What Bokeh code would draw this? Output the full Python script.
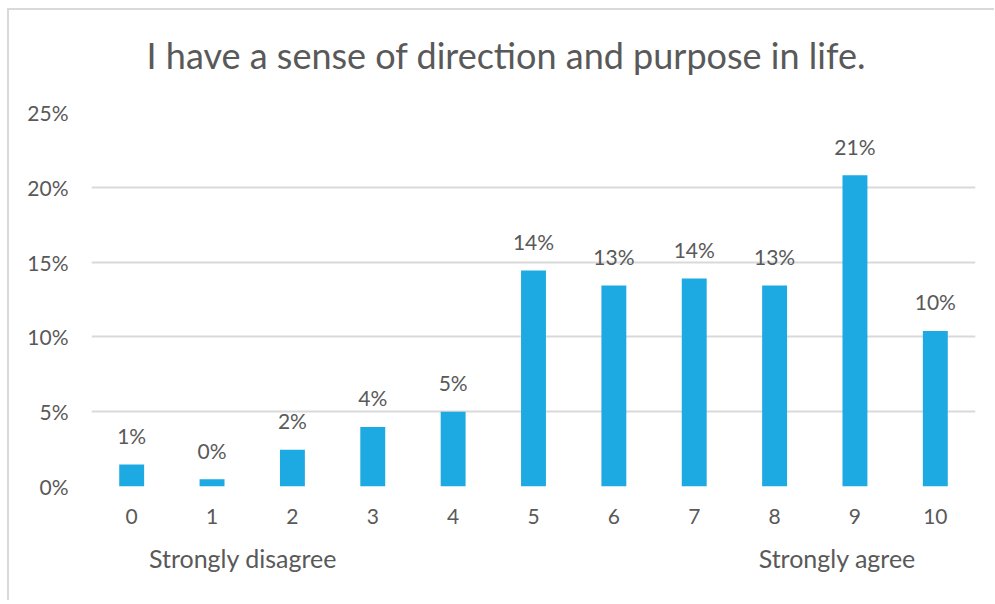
from bokeh.plotting import figure
from bokeh.models import FixedTicker, Range1d, ColumnDataSource, LinearAxis
from bokeh.core.properties import value
from bokeh.embed import file_html
from bokeh.resources import INLINE

title_text = "I have a sense of direction and purpose in life."
categories = ["0", "1", "2", "3", "4", "5", "6", "7", "8", "9", "10"]
shares = [1.47, 0.49, 2.45, 3.98, 5.0, 14.44, 13.44, 13.9, 13.44, 20.8, 10.4]
share_labels = ["1%", "0%", "2%", "4%", "5%", "14%", "13%", "14%", "13%", "21%", "10%"]
y_ticks = [0, 5, 10, 15, 20, 25]
y_tick_labels = ["0%", "5%", "10%", "15%", "20%", "25%"]
end_labels = ["Strongly disagree", "Strongly agree"]
end_positions = [1.385, 8.78]

FONT = "Lato"
GREY = "#595959"
BAR = "#1DAAE2"
FRAME_LINE = "linear-gradient(#d9d9d9, #d9d9d9)"

xs = list(range(len(categories)))
src = ColumnDataSource(dict(x=xs, top=shares, lab=share_labels))

p = figure(width=987, height=610, output_backend="svg", toolbar_location=None,
           x_range=Range1d(-0.5, len(categories) - 0.5), y_range=Range1d(0, 25),
           min_border_left=84, min_border_right=19, min_border_top=122, min_border_bottom=114,
           styles={"margin-left": "7px", "margin-top": "-10px",
                   "background": (FRAME_LINE + " 0px 18px / 100% 2px no-repeat, "
                                  + FRAME_LINE + " 0px 18px / 2px 100% no-repeat, #ffffff")})
p.outline_line_color = None
p.background_fill_color = "white"
p.border_fill_color = None

p.title.text = title_text
p.title.align = "left"
p.title.vertical_align = "top"
p.title.offset = 55
p.title.standoff = 68
p.title.text_font = FONT
p.title.text_font_size = "36px"
p.title.text_font_style = "normal"
p.title.text_color = GREY

p.vbar(x="x", top="top", width=0.31, bottom=0, source=src, fill_color=BAR, line_color=None)
p.text(x="x", y="top", text="lab", source=src, text_align="center", text_baseline="alphabetic",
       y_offset=-29, text_font=value(FONT), text_font_size="21px", text_color=GREY)

# axes
p.xaxis.ticker = FixedTicker(ticks=xs)
p.xaxis.major_label_overrides = {i: c for i, c in zip(xs, categories)}
p.yaxis.ticker = FixedTicker(ticks=y_ticks)
p.yaxis.major_label_overrides = {t: l for t, l in zip(y_ticks, y_tick_labels)}

end_axis = LinearAxis(ticker=FixedTicker(ticks=end_positions),
                      major_label_overrides={x: t for x, t in zip(end_positions, end_labels)})
p.add_layout(end_axis, "below")

for ax in (p.xaxis[0], end_axis, p.yaxis[0]):
    ax.axis_line_color = None
    ax.major_tick_line_color = None
    ax.minor_tick_line_color = None
    ax.major_tick_out = 0
    ax.major_tick_in = 0
    ax.minor_tick_out = 0
    ax.minor_tick_in = 0
    ax.major_label_text_font = FONT
    ax.major_label_text_font_size = "21px"
    ax.major_label_text_color = GREY
end_axis.major_label_text_font_size = "25px"
p.xaxis[0].major_label_standoff = 22
end_axis.major_label_standoff = 16
p.yaxis[0].major_label_standoff = 23

p.xgrid.grid_line_color = None
p.ygrid.ticker = FixedTicker(ticks=y_ticks)
p.ygrid.grid_line_color = "#d9d9d9"
p.ygrid.grid_line_width = 2

open("out.html", "w").write(file_html(p, INLINE))
